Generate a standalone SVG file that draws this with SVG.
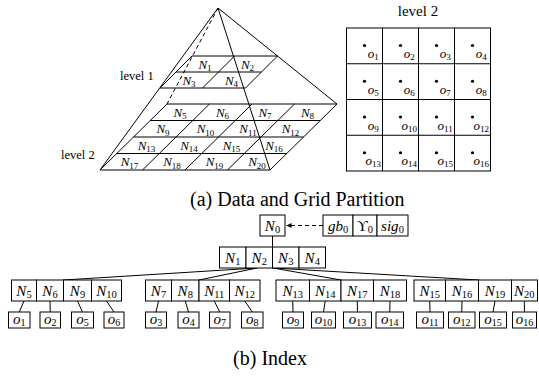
<svg xmlns="http://www.w3.org/2000/svg" width="539" height="377" viewBox="0 0 539 377">
<defs>
<style>
.ln{stroke:#000;stroke-width:1;fill:none}
.dash{stroke:#000;stroke-width:1;fill:none;stroke-dasharray:4,3}
.bx{fill:#fff;stroke:#000;stroke-width:1}
.t{font-family:"Liberation Serif","Times New Roman",serif;fill:#000}
.m{font-family:"Liberation Serif","Times New Roman",serif;font-style:italic;fill:#000}
.p{font-size:13px;text-anchor:middle}
.g{font-size:13px;text-anchor:middle}
.i{font-size:15px;text-anchor:middle}
.u{font-style:normal}
</style>
<marker id="ah" markerWidth="6" markerHeight="6" refX="5" refY="3" orient="auto" markerUnits="userSpaceOnUse">
<path d="M0,0.5 L5,3 L0,5.5 Z" fill="#000"/>
</marker>
</defs>
<rect width="539" height="377" fill="#fff"/>

<!-- Pyramid -->
<g id="pyramid">
<line class="ln" x1="218" y1="8" x2="100" y2="170"/>
<line class="ln" x1="218" y1="8" x2="337" y2="104"/>
<line class="ln" x1="218" y1="8" x2="270" y2="170"/>
<line class="dash" x1="218" y1="8" x2="167" y2="104"/>
<g id="level1">
<line class="ln" x1="192" y1="56" x2="277.5" y2="56"/>
<line class="ln" x1="176" y1="72" x2="261.5" y2="72"/>
<line class="ln" x1="160" y1="88" x2="245.5" y2="88"/>
<line class="ln" x1="192" y1="56" x2="160" y2="88"/>
<line class="ln" x1="234.5" y1="56" x2="202.5" y2="88"/>
<line class="ln" x1="277.5" y1="56" x2="245.5" y2="88"/>
<text class="m p" x="205" y="68.5">N<tspan class="u" font-size="9" dy="2.5">1</tspan></text>
<text class="m p" x="247.5" y="68.5">N<tspan class="u" font-size="9" dy="2.5">2</tspan></text>
<text class="m p" x="189" y="84.5">N<tspan class="u" font-size="9" dy="2.5">3</tspan></text>
<text class="m p" x="231.5" y="84.5">N<tspan class="u" font-size="9" dy="2.5">4</tspan></text>
</g>
<g id="level2">
<line class="ln" x1="167" y1="104" x2="337" y2="104"/>
<line class="ln" x1="150.25" y1="120.5" x2="320.25" y2="120.5"/>
<line class="ln" x1="133.5" y1="137" x2="303.5" y2="137"/>
<line class="ln" x1="116.75" y1="153.5" x2="286.75" y2="153.5"/>
<line class="ln" x1="100" y1="170" x2="270" y2="170"/>
<line class="ln" x1="167" y1="104" x2="100" y2="170"/>
<line class="ln" x1="209.5" y1="104" x2="142.5" y2="170"/>
<line class="ln" x1="252" y1="104" x2="185" y2="170"/>
<line class="ln" x1="294.5" y1="104" x2="227.5" y2="170"/>
<line class="ln" x1="337" y1="104" x2="270" y2="170"/>
<text class="m p" x="180" y="116.5">N<tspan class="u" font-size="9" dy="2.5">5</tspan></text>
<text class="m p" x="222.5" y="116.5">N<tspan class="u" font-size="9" dy="2.5">6</tspan></text>
<text class="m p" x="265" y="116.5">N<tspan class="u" font-size="9" dy="2.5">7</tspan></text>
<text class="m p" x="307.5" y="116.5">N<tspan class="u" font-size="9" dy="2.5">8</tspan></text>
<text class="m p" x="163" y="133">N<tspan class="u" font-size="9" dy="2.5">9</tspan></text>
<text class="m p" x="205.5" y="133">N<tspan class="u" font-size="9" dy="2.5">10</tspan></text>
<text class="m p" x="248" y="133">N<tspan class="u" font-size="9" dy="2.5">11</tspan></text>
<text class="m p" x="290.5" y="133">N<tspan class="u" font-size="9" dy="2.5">12</tspan></text>
<text class="m p" x="146.5" y="149.5">N<tspan class="u" font-size="9" dy="2.5">13</tspan></text>
<text class="m p" x="189" y="149.5">N<tspan class="u" font-size="9" dy="2.5">14</tspan></text>
<text class="m p" x="231.5" y="149.5">N<tspan class="u" font-size="9" dy="2.5">15</tspan></text>
<text class="m p" x="274" y="149.5">N<tspan class="u" font-size="9" dy="2.5">16</tspan></text>
<text class="m p" x="129.5" y="166">N<tspan class="u" font-size="9" dy="2.5">17</tspan></text>
<text class="m p" x="172" y="166">N<tspan class="u" font-size="9" dy="2.5">18</tspan></text>
<text class="m p" x="214.5" y="166">N<tspan class="u" font-size="9" dy="2.5">19</tspan></text>
<text class="m p" x="257" y="166">N<tspan class="u" font-size="9" dy="2.5">20</tspan></text>
</g>
<text class="t" x="120" y="80" font-size="12.5">level 1</text>
<text class="t" x="61" y="159" font-size="12.5">level 2</text>
</g>

<!-- Right grid -->
<g id="grid">
<text class="t" x="418" y="16" font-size="15" text-anchor="middle">level 2</text>
<rect class="ln" x="346.5" y="28" width="144" height="143"/>
<line class="ln" x1="382.5" y1="28" x2="382.5" y2="171"/>
<line class="ln" x1="418.5" y1="28" x2="418.5" y2="171"/>
<line class="ln" x1="454.5" y1="28" x2="454.5" y2="171"/>
<line class="ln" x1="346.5" y1="63.75" x2="490.5" y2="63.75"/>
<line class="ln" x1="346.5" y1="99.5" x2="490.5" y2="99.5"/>
<line class="ln" x1="346.5" y1="135.25" x2="490.5" y2="135.25"/>
<g fill="#000">
<circle cx="364.5" cy="45.5" r="1.6"/><circle cx="400.5" cy="45.5" r="1.6"/><circle cx="436.5" cy="45.5" r="1.6"/><circle cx="472.5" cy="45.5" r="1.6"/>
<circle cx="364.5" cy="81.25" r="1.6"/><circle cx="400.5" cy="81.25" r="1.6"/><circle cx="436.5" cy="81.25" r="1.6"/><circle cx="472.5" cy="81.25" r="1.6"/>
<circle cx="364.5" cy="117" r="1.6"/><circle cx="400.5" cy="117" r="1.6"/><circle cx="436.5" cy="117" r="1.6"/><circle cx="472.5" cy="117" r="1.6"/>
<circle cx="364.5" cy="152.75" r="1.6"/><circle cx="400.5" cy="152.75" r="1.6"/><circle cx="436.5" cy="152.75" r="1.6"/><circle cx="472.5" cy="152.75" r="1.6"/>
</g>
<text class="m g" x="373.2" y="58">o<tspan class="u" font-size="9" dy="2">1</tspan></text>
<text class="m g" x="409.2" y="58">o<tspan class="u" font-size="9" dy="2">2</tspan></text>
<text class="m g" x="445.2" y="58">o<tspan class="u" font-size="9" dy="2">3</tspan></text>
<text class="m g" x="481.2" y="58">o<tspan class="u" font-size="9" dy="2">4</tspan></text>
<text class="m g" x="373.2" y="93.75">o<tspan class="u" font-size="9" dy="2">5</tspan></text>
<text class="m g" x="409.2" y="93.75">o<tspan class="u" font-size="9" dy="2">6</tspan></text>
<text class="m g" x="445.2" y="93.75">o<tspan class="u" font-size="9" dy="2">7</tspan></text>
<text class="m g" x="481.2" y="93.75">o<tspan class="u" font-size="9" dy="2">8</tspan></text>
<text class="m g" x="373.2" y="129.5">o<tspan class="u" font-size="9" dy="2">9</tspan></text>
<text class="m g" x="409.2" y="129.5">o<tspan class="u" font-size="9" dy="2">10</tspan></text>
<text class="m g" x="445.2" y="129.5">o<tspan class="u" font-size="9" dy="2">11</tspan></text>
<text class="m g" x="481.2" y="129.5">o<tspan class="u" font-size="9" dy="2">12</tspan></text>
<text class="m g" x="373.2" y="165.25">o<tspan class="u" font-size="9" dy="2">13</tspan></text>
<text class="m g" x="409.2" y="165.25">o<tspan class="u" font-size="9" dy="2">14</tspan></text>
<text class="m g" x="445.2" y="165.25">o<tspan class="u" font-size="9" dy="2">15</tspan></text>
<text class="m g" x="481.2" y="165.25">o<tspan class="u" font-size="9" dy="2">16</tspan></text>
</g>

<text class="t" x="190" y="206" font-size="20">(a) Data and Grid Partition</text>

<!-- Connectors -->
<g id="connectors">
<line class="dash" x1="323" y1="225.5" x2="286.5" y2="225.5" marker-end="url(#ah)"/>
<line class="ln" x1="272.5" y1="236" x2="272.5" y2="247"/>
<line class="ln" x1="257" y1="268" x2="63.5" y2="280"/>
<line class="ln" x1="257" y1="268" x2="199" y2="280"/>
<line class="ln" x1="273" y1="268" x2="341" y2="280"/>
<line class="ln" x1="273" y1="268" x2="478.5" y2="280"/>
<line class="ln" x1="24" y1="301" x2="19.25" y2="312"/>
<line class="ln" x1="50" y1="301" x2="50.25" y2="312"/>
<line class="ln" x1="77.5" y1="301" x2="82.5" y2="312"/>
<line class="ln" x1="106.5" y1="301" x2="114" y2="312"/>
<line class="ln" x1="158.5" y1="301" x2="156" y2="312"/>
<line class="ln" x1="185.25" y1="301" x2="188.5" y2="312"/>
<line class="ln" x1="214.25" y1="301" x2="219.75" y2="312"/>
<line class="ln" x1="244.75" y1="301" x2="252.25" y2="312"/>
<line class="ln" x1="292.75" y1="301" x2="293" y2="312"/>
<line class="ln" x1="325.25" y1="301" x2="323.5" y2="312"/>
<line class="ln" x1="357.25" y1="301" x2="357.5" y2="312"/>
<line class="ln" x1="390" y1="301" x2="389.75" y2="312"/>
<line class="ln" x1="429.75" y1="301" x2="430" y2="312"/>
<line class="ln" x1="462" y1="301" x2="461.75" y2="312"/>
<line class="ln" x1="495" y1="301" x2="493" y2="312"/>
<line class="ln" x1="524.25" y1="301" x2="524.5" y2="312"/>
</g>

<!-- Index nodes -->
<g id="n0">
<rect class="bx" x="260" y="215" width="25" height="21"/>
<text class="m i" x="272.5" y="230.5">N<tspan class="u" font-size="10.5" dy="2.5">0</tspan></text>
</g>
<g id="meta">
<rect class="bx" x="323" y="215" width="30" height="21"/>
<rect class="bx" x="353" y="215" width="24" height="21"/>
<rect class="bx" x="377" y="215" width="31" height="21"/>
<text class="m i" x="338" y="230.5">gb<tspan class="u" font-size="10.5" dy="2.5">0</tspan></text>
<text class="t i" x="365" y="230.5">ϒ<tspan font-size="10.5" dy="2.5">0</tspan></text>
<text class="m i" x="392.5" y="230.5">sig<tspan class="u" font-size="10.5" dy="2.5">0</tspan></text>
</g>
<g id="n1-4">
<rect class="bx" x="219.5" y="247" width="26.5" height="21"/>
<rect class="bx" x="246" y="247" width="26.5" height="21"/>
<rect class="bx" x="272.5" y="247" width="26.5" height="21"/>
<rect class="bx" x="299" y="247" width="26.5" height="21"/>
<text class="m i" x="232.75" y="262.5">N<tspan class="u" font-size="10.5" dy="2.5">1</tspan></text>
<text class="m i" x="259.25" y="262.5">N<tspan class="u" font-size="10.5" dy="2.5">2</tspan></text>
<text class="m i" x="285.75" y="262.5">N<tspan class="u" font-size="10.5" dy="2.5">3</tspan></text>
<text class="m i" x="312.25" y="262.5">N<tspan class="u" font-size="10.5" dy="2.5">4</tspan></text>
</g>
<g id="g1">
<rect class="bx" x="11.5" y="280" width="25" height="21"/>
<rect class="bx" x="36.5" y="280" width="27" height="21"/>
<rect class="bx" x="63.5" y="280" width="28" height="21"/>
<rect class="bx" x="91.5" y="280" width="30" height="21"/>
<text class="m i" x="24" y="295.5">N<tspan class="u" font-size="10.5" dy="2.5">5</tspan></text>
<text class="m i" x="50" y="295.5">N<tspan class="u" font-size="10.5" dy="2.5">6</tspan></text>
<text class="m i" x="77.5" y="295.5">N<tspan class="u" font-size="10.5" dy="2.5">9</tspan></text>
<text class="m i" x="106.5" y="295.5">N<tspan class="u" font-size="10.5" dy="2.5">10</tspan></text>
</g>
<g id="g2">
<rect class="bx" x="145.5" y="280" width="26" height="21"/>
<rect class="bx" x="171.5" y="280" width="27.5" height="21"/>
<rect class="bx" x="199" y="280" width="30.5" height="21"/>
<rect class="bx" x="229.5" y="280" width="30.5" height="21"/>
<text class="m i" x="158.5" y="295.5">N<tspan class="u" font-size="10.5" dy="2.5">7</tspan></text>
<text class="m i" x="185.25" y="295.5">N<tspan class="u" font-size="10.5" dy="2.5">8</tspan></text>
<text class="m i" x="214.25" y="295.5">N<tspan class="u" font-size="10.5" dy="2.5">11</tspan></text>
<text class="m i" x="244.75" y="295.5">N<tspan class="u" font-size="10.5" dy="2.5">12</tspan></text>
</g>
<g id="g3">
<rect class="bx" x="276" y="280" width="33.5" height="21"/>
<rect class="bx" x="309.5" y="280" width="31.5" height="21"/>
<rect class="bx" x="341" y="280" width="32.5" height="21"/>
<rect class="bx" x="373.5" y="280" width="33" height="21"/>
<text class="m i" x="292.75" y="295.5">N<tspan class="u" font-size="10.5" dy="2.5">13</tspan></text>
<text class="m i" x="325.25" y="295.5">N<tspan class="u" font-size="10.5" dy="2.5">14</tspan></text>
<text class="m i" x="357.25" y="295.5">N<tspan class="u" font-size="10.5" dy="2.5">17</tspan></text>
<text class="m i" x="390" y="295.5">N<tspan class="u" font-size="10.5" dy="2.5">18</tspan></text>
</g>
<g id="g4">
<rect class="bx" x="414" y="280" width="31.5" height="21"/>
<rect class="bx" x="445.5" y="280" width="33" height="21"/>
<rect class="bx" x="478.5" y="280" width="33" height="21"/>
<rect class="bx" x="511.5" y="280" width="26" height="21"/>
<text class="m i" x="429.75" y="295.5">N<tspan class="u" font-size="10.5" dy="2.5">15</tspan></text>
<text class="m i" x="462" y="295.5">N<tspan class="u" font-size="10.5" dy="2.5">16</tspan></text>
<text class="m i" x="495" y="295.5">N<tspan class="u" font-size="10.5" dy="2.5">19</tspan></text>
<text class="m i" x="524.25" y="295.5">N<tspan class="u" font-size="10.5" dy="2.5">20</tspan></text>
</g>
<g id="leaves">
<rect class="bx" x="8.5" y="312" width="21.5" height="16"/>
<rect class="bx" x="40" y="312" width="20.5" height="16"/>
<rect class="bx" x="71.5" y="312" width="22" height="16"/>
<rect class="bx" x="104" y="312" width="20" height="16"/>
<rect class="bx" x="145.5" y="312" width="21" height="16"/>
<rect class="bx" x="178" y="312" width="21" height="16"/>
<rect class="bx" x="209.5" y="312" width="20.5" height="16"/>
<rect class="bx" x="241.5" y="312" width="21.5" height="16"/>
<rect class="bx" x="282.5" y="312" width="21" height="16"/>
<rect class="bx" x="311.5" y="312" width="24" height="16"/>
<rect class="bx" x="343.5" y="312" width="28" height="16"/>
<rect class="bx" x="376" y="312" width="27.5" height="16"/>
<rect class="bx" x="416.5" y="312" width="27" height="16"/>
<rect class="bx" x="448.5" y="312" width="26.5" height="16"/>
<rect class="bx" x="479.5" y="312" width="27" height="16"/>
<rect class="bx" x="512.5" y="312" width="24" height="16"/>
<text class="m i" x="19.25" y="323.5">o<tspan class="u" font-size="10" dy="2">1</tspan></text>
<text class="m i" x="50.25" y="323.5">o<tspan class="u" font-size="10" dy="2">2</tspan></text>
<text class="m i" x="82.5" y="323.5">o<tspan class="u" font-size="10" dy="2">5</tspan></text>
<text class="m i" x="114" y="323.5">o<tspan class="u" font-size="10" dy="2">6</tspan></text>
<text class="m i" x="156" y="323.5">o<tspan class="u" font-size="10" dy="2">3</tspan></text>
<text class="m i" x="188.5" y="323.5">o<tspan class="u" font-size="10" dy="2">4</tspan></text>
<text class="m i" x="219.75" y="323.5">o<tspan class="u" font-size="10" dy="2">7</tspan></text>
<text class="m i" x="252.25" y="323.5">o<tspan class="u" font-size="10" dy="2">8</tspan></text>
<text class="m i" x="293" y="323.5">o<tspan class="u" font-size="10" dy="2">9</tspan></text>
<text class="m i" x="323.5" y="323.5">o<tspan class="u" font-size="10" dy="2">10</tspan></text>
<text class="m i" x="357.5" y="323.5">o<tspan class="u" font-size="10" dy="2">13</tspan></text>
<text class="m i" x="389.75" y="323.5">o<tspan class="u" font-size="10" dy="2">14</tspan></text>
<text class="m i" x="430" y="323.5">o<tspan class="u" font-size="10" dy="2">11</tspan></text>
<text class="m i" x="461.75" y="323.5">o<tspan class="u" font-size="10" dy="2">12</tspan></text>
<text class="m i" x="493" y="323.5">o<tspan class="u" font-size="10" dy="2">15</tspan></text>
<text class="m i" x="524.5" y="323.5">o<tspan class="u" font-size="10" dy="2">16</tspan></text>
</g>

<text class="t" x="270" y="365" font-size="20" text-anchor="middle">(b) Index</text>
</svg>
